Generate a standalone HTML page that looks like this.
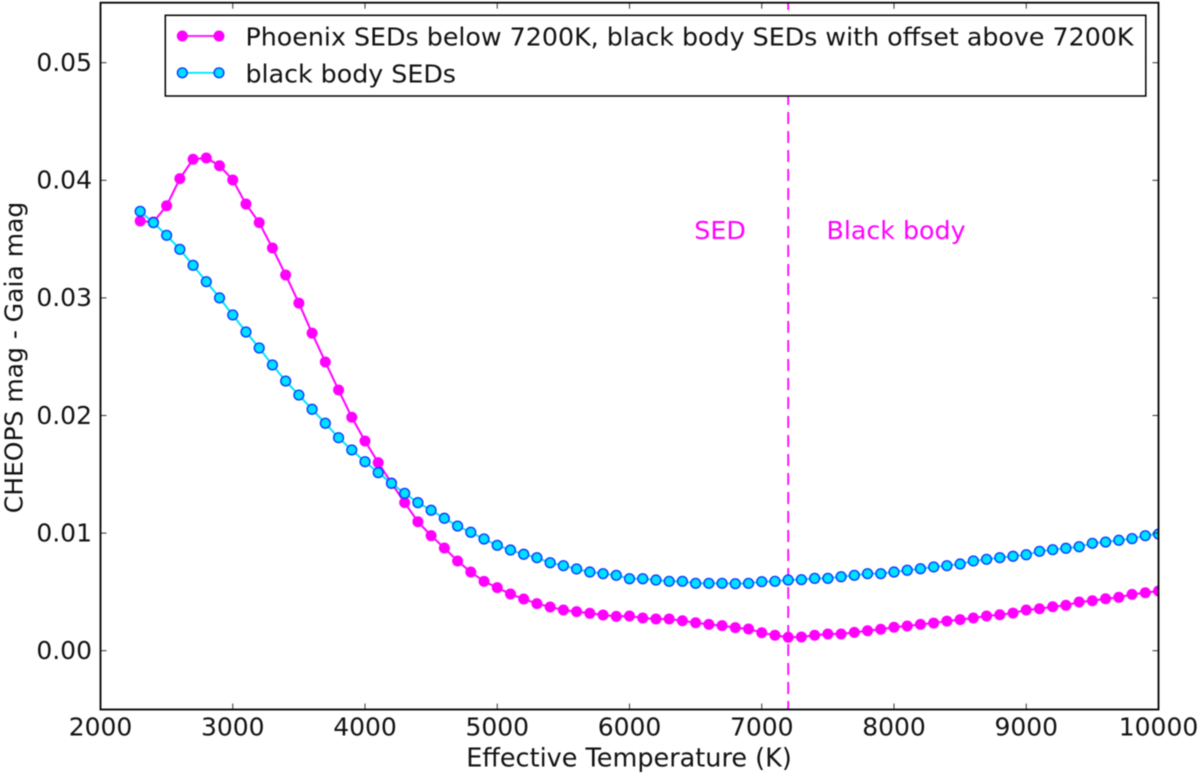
<!DOCTYPE html>
<html lang="en">
<head>
<meta charset="utf-8">
<title>CHEOPS mag - Gaia mag vs Effective Temperature</title>
<style>
html,body{margin:0;padding:0;background:#fff;width:1200px;height:775px;overflow:hidden}
svg{display:block;filter:blur(0.4px)}
text{font-family:"DejaVu Sans","Liberation Sans",sans-serif;fill:#111}
</style>
</head>
<body>
<svg id="chart" xmlns="http://www.w3.org/2000/svg" width="1200" height="775" viewBox="0 0 1200 775">
  <defs><clipPath id="plot-clip"><rect x="100.5" y="2.7" width="1058" height="706.8"/></clipPath></defs>
  <rect x="100.5" y="2.7" width="1058" height="706.8" fill="#fff"/>
  <g id="annotations">
    <text x="694.3" y="239" font-size="25.3" style="fill:#ff00ff">SED</text>
    <text x="826.5" y="239" font-size="25.3" style="fill:#ff00ff">Black body</text>
  </g>
  <g id="marks" clip-path="url(#plot-clip)"></g>
  <g id="ticks"></g>
  <rect x="100.5" y="2.7" width="1058" height="706.8" fill="none" stroke="#000" stroke-width="1.8"/>
  <text x="629" y="766.5" font-size="25.5" text-anchor="middle">Effective Temperature (K)</text>
  <text transform="translate(22.5,357.5) rotate(-90)" font-size="25" text-anchor="middle">CHEOPS mag - Gaia mag</text>
  <g id="legend">
    <rect x="165.3" y="15.3" width="980.5" height="80.7" fill="#fff" stroke="#000" stroke-width="1.5"/>
    <g>
      <line x1="182.3" y1="36" x2="219" y2="36" stroke="#ff00ff" stroke-width="1.8"/>
      <circle cx="182.3" cy="36" r="5.5" fill="#ff00ff"/>
      <circle cx="219" cy="36" r="5.5" fill="#ff00ff"/>
      <text x="245.5" y="45.5" font-size="25.3" textLength="888" lengthAdjust="spacingAndGlyphs">Phoenix SEDs below 7200K, black body SEDs with offset above 7200K</text>
    </g>
    <g>
      <line x1="182.3" y1="72.8" x2="219" y2="72.8" stroke="#00e5ff" stroke-width="1.8"/>
      <circle cx="182.3" cy="72.8" r="4.9" fill="#00e0ff" stroke="#0a3cff" stroke-width="1.4"/>
      <circle cx="219" cy="72.8" r="4.9" fill="#00e0ff" stroke="#0a3cff" stroke-width="1.4"/>
      <text x="245.5" y="82.5" font-size="25.3">black body SEDs</text>
    </g>
  </g>
</svg>
<script>
const temperatures = [2300,2400,2500,2600,2700,2800,2900,3000,3100,3200,3300,3400,3500,3600,3700,3800,3900,4000,4100,4200,4300,4400,4500,4600,4700,4800,4900,5000,5100,5200,5300,5400,5500,5600,5700,5800,5900,6000,6100,6200,6300,6400,6500,6600,6700,6800,6900,7000,7100,7200,7300,7400,7500,7600,7700,7800,7900,8000,8100,8200,8300,8400,8500,8600,8700,8800,8900,9000,9100,9200,9300,9400,9500,9600,9700,9800,9900,10000];
const phoenixValues = [0.03654,0.03645,0.03784,0.04014,0.04179,0.0419,0.04124,0.04003,0.03798,0.0364,0.03424,0.03195,0.02956,0.027,0.02455,0.02217,0.01985,0.01783,0.01599,0.01426,0.01259,0.01097,0.00978,0.00873,0.00763,0.00669,0.0059,0.00536,0.00482,0.0044,0.004,0.00372,0.00346,0.00332,0.00318,0.00304,0.00292,0.00295,0.00278,0.0027,0.0027,0.00255,0.00238,0.00224,0.00213,0.00196,0.00185,0.00153,0.00131,0.00114,0.00117,0.00131,0.00142,0.00142,0.00156,0.0017,0.00182,0.00199,0.0021,0.00224,0.00235,0.00252,0.00264,0.00278,0.00295,0.00306,0.0032,0.00346,0.00357,0.00374,0.00386,0.00414,0.00425,0.00442,0.00454,0.00479,0.00493,0.00508];
const blackBodyValues = [0.03736,0.0364,0.03532,0.03413,0.03277,0.03138,0.03,0.02855,0.0271,0.02574,0.0243,0.02293,0.02174,0.02053,0.01934,0.01811,0.01707,0.01607,0.01514,0.01423,0.01338,0.01259,0.01194,0.01126,0.0106,0.01007,0.0095,0.00896,0.00856,0.0082,0.00791,0.00748,0.00723,0.00695,0.00669,0.00655,0.00641,0.00612,0.00612,0.00601,0.0059,0.0059,0.00573,0.00573,0.00573,0.0057,0.00573,0.00587,0.0059,0.00601,0.00604,0.00615,0.00615,0.00629,0.00641,0.00655,0.00655,0.00669,0.00684,0.00697,0.00712,0.00723,0.00737,0.00763,0.00777,0.00791,0.00803,0.00816,0.00845,0.00859,0.00871,0.00884,0.00913,0.00924,0.00939,0.00953,0.00978,0.00992];
const xTickValues = [2000,3000,4000,5000,6000,7000,8000,9000,10000];
const yTickValues = [0,0.01,0.02,0.03,0.04,0.05];
const yTickLabels = ["0.00","0.01","0.02","0.03","0.04","0.05"];
const dividerTemperature = 7200;

const SVG_NS = "http://www.w3.org/2000/svg";
function xScale(t){ return 100.5 + (t - 2000) * 0.13225; }
function yScale(v){ return 650.7 - v * 11760; }
function svgEl(tag, attrs){
  const el = document.createElementNS(SVG_NS, tag);
  for (const k in attrs) el.setAttribute(k, attrs[k]);
  return el;
}
const marks = document.getElementById("marks");
const ticks = document.getElementById("ticks");

xTickValues.forEach(function(t){
  const x = xScale(t);
  const bottom = svgEl("line", {x1:x, x2:x, y1:709.5, y2:703.5, stroke:"#333", "stroke-width":1});
  
  
  ticks.appendChild(bottom);
  const top = svgEl("line", {x1:x, x2:x, y1:2.7, y2:8.7, stroke:"#333", "stroke-width":1});
  
  
  ticks.appendChild(top);
  const label = svgEl("text", {x:x, y:735.7, "font-size":25, "text-anchor":"middle"});
  label.textContent = String(t);
  
  
  ticks.appendChild(label);
});

yTickValues.forEach(function(v, i){
  const y = yScale(v);
  const left = svgEl("line", {x1:100.5, x2:106.5, y1:y, y2:y, stroke:"#333", "stroke-width":1});
  
  
  ticks.appendChild(left);
  const right = svgEl("line", {x1:1158.5, x2:1152.5, y1:y, y2:y, stroke:"#333", "stroke-width":1});
  
  
  ticks.appendChild(right);
  const label = svgEl("text", {x:92, y:y + 8.3, "font-size":25, "text-anchor":"end"});
  label.textContent = yTickLabels[i];
  
  
  ticks.appendChild(label);
});

const divider = svgEl("line", {x1:xScale(dividerTemperature), x2:xScale(dividerTemperature), y1:-2, y2:709.5, stroke:"#ff00ff", "stroke-width":1.8, "stroke-dasharray":"12 7"});


marks.appendChild(divider);

function pointsFor(values){
  return values.map(function(v, i){ return xScale(temperatures[i]) + "," + yScale(v); }).join(" ");
}

const phoenixLine = svgEl("polyline", {points:pointsFor(phoenixValues), fill:"none", stroke:"#ff00ff", "stroke-width":2});


marks.appendChild(phoenixLine);
phoenixValues.forEach(function(v, i){
  const c = svgEl("circle", {cx:xScale(temperatures[i]), cy:yScale(v), r:5.5, fill:"#ff00ff"});
  
  
  marks.appendChild(c);
});

const blackBodyLine = svgEl("polyline", {points:pointsFor(blackBodyValues), fill:"none", stroke:"#00e5ff", "stroke-width":2});


marks.appendChild(blackBodyLine);
blackBodyValues.forEach(function(v, i){
  const c = svgEl("circle", {cx:xScale(temperatures[i]), cy:yScale(v), r:4.9, fill:"#00e0ff", stroke:"#0a3cff", "stroke-width":1.4});
  
  
  marks.appendChild(c);
});
</script>
</body>
</html>
